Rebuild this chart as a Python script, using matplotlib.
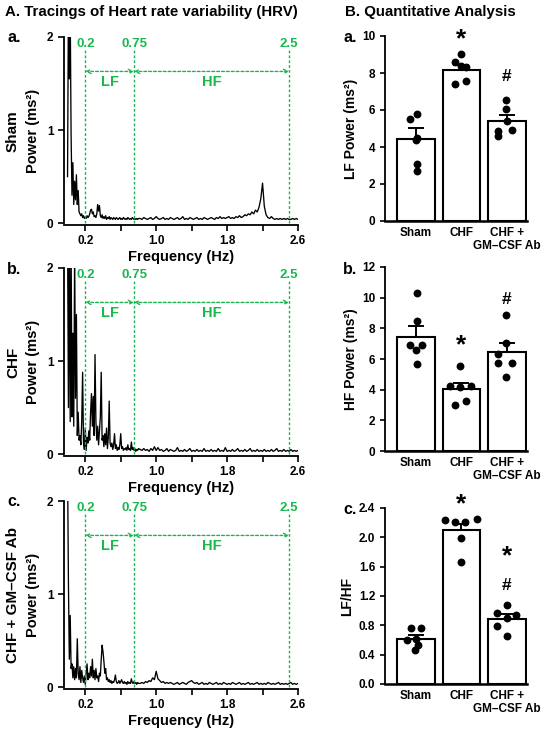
import matplotlib.pyplot as plt
import numpy as np

plt.rcParams['font.family'] = ['Liberation Sans', 'DejaVu Sans']
plt.rcParams['font.weight'] = 'bold'
plt.rcParams['axes.labelweight'] = 'bold'

# ---- HRV power spectra, read off the tracings (power in ms^2) ----
# low band sampled every 0.01 Hz from 0.00 to 0.80
freq_low = np.arange(81) * 0.01
# high band sampled every 0.02 Hz from 0.82 to 2.60
freq_high = 0.82 + np.arange(90) * 0.02

sham_low = [0.5, 2.4, 1.55, 2.3, 0.95, 0.3, 0.65, 0.2, 0.45, 0.25,
            0.52, 0.2, 0.35, 0.12, 0.1, 0.08, 0.1, 0.06, 0.08, 0.05,
            0.07, 0.05, 0.08, 0.06, 0.07, 0.1, 0.14, 0.15, 0.1, 0.12,
            0.07, 0.08, 0.06, 0.1, 0.2, 0.13, 0.19, 0.08, 0.06, 0.09,
            0.05, 0.07, 0.05, 0.08, 0.04, 0.06, 0.05, 0.07, 0.04, 0.06,
            0.05, 0.04, 0.06, 0.05, 0.04, 0.06, 0.05, 0.04, 0.05, 0.06,
            0.04, 0.05, 0.04, 0.06, 0.05, 0.04, 0.05, 0.04, 0.06, 0.05,
            0.04, 0.05, 0.04, 0.06, 0.05, 0.04, 0.05, 0.04, 0.05, 0.04,
            0.05]
sham_high = [0.05, 0.04, 0.06, 0.05, 0.04, 0.05, 0.06, 0.04, 0.05, 0.07,
             0.05, 0.04, 0.05, 0.06, 0.04, 0.05, 0.04, 0.06, 0.05, 0.04,
             0.05, 0.06, 0.04, 0.05, 0.07, 0.04, 0.05, 0.04, 0.06, 0.05,
             0.04, 0.05, 0.06, 0.04, 0.05, 0.04, 0.06, 0.05, 0.04, 0.05,
             0.06, 0.05, 0.04, 0.06, 0.05, 0.07, 0.05, 0.06, 0.05, 0.06,
             0.07, 0.05, 0.06, 0.05, 0.07, 0.06, 0.08, 0.06, 0.07, 0.09,
             0.08, 0.1, 0.09, 0.12, 0.1, 0.14, 0.12, 0.17, 0.26, 0.43,
             0.18, 0.09, 0.06, 0.05, 0.07, 0.05, 0.04, 0.05, 0.04, 0.05,
             0.04, 0.05, 0.04, 0.05, 0.04, 0.04, 0.05, 0.04, 0.05, 0.04]

chf_low = [2.4, 0.5, 2.4, 0.35, 2.3, 0.4, 1.3, 0.3, 2.2, 0.6,
           1.5, 0.2, 0.45, 0.15, 0.2, 0.1, 0.35, 0.88, 0.12, 0.05,
           0.28, 0.04, 0.18, 0.12, 0.25, 0.15, 0.45, 0.65, 0.3, 0.62,
           0.2, 1.07, 0.35, 0.15, 0.3, 0.1, 0.25, 0.4, 0.88, 0.15,
           0.2, 0.08, 0.22, 0.1, 0.28, 0.06, 0.18, 0.57, 0.12, 0.08,
           0.12, 0.05, 0.1, 0.22, 0.06, 0.1, 0.04, 0.07, 0.05, 0.1,
           0.22, 0.06, 0.08, 0.04, 0.06, 0.05, 0.07, 0.04, 0.1, 0.05,
           0.06, 0.04, 0.13, 0.05, 0.07, 0.04, 0.06, 0.03, 0.05, 0.04,
           0.06]
chf_high = [0.05, 0.04, 0.06, 0.04, 0.05, 0.03, 0.06, 0.04, 0.08, 0.04,
            0.07, 0.04, 0.05, 0.03, 0.04, 0.06, 0.03, 0.05, 0.04, 0.03,
            0.04, 0.07, 0.03, 0.04, 0.03, 0.05, 0.03, 0.04, 0.06, 0.03,
            0.04, 0.03, 0.05, 0.03, 0.04, 0.03, 0.06, 0.03, 0.04, 0.03,
            0.05, 0.03, 0.04, 0.03, 0.06, 0.03, 0.04, 0.03, 0.07, 0.03,
            0.04, 0.03, 0.05, 0.03, 0.04, 0.06, 0.03, 0.04, 0.03, 0.05,
            0.03, 0.04, 0.06, 0.03, 0.04, 0.03, 0.05, 0.03, 0.04, 0.03,
            0.05, 0.03, 0.04, 0.03, 0.05, 0.03, 0.04, 0.06, 0.03, 0.04,
            0.03, 0.05, 0.03, 0.04, 0.03, 0.05, 0.03, 0.04, 0.03, 0.04]

gm_low = [2.4, 1.12, 0.3, 0.77, 0.2, 0.25, 0.1, 0.22, 0.08, 0.2,
          0.1, 0.52, 0.15, 0.08, 0.22, 0.05, 0.18, 0.1, 0.05, 0.12,
          0.03, 0.15, 0.25, 0.08, 0.15, 0.1, 0.22, 0.12, 0.3, 0.1,
          0.18, 0.08, 0.2, 0.1, 0.12, 0.06, 0.15, 0.12, 0.3, 0.45,
          0.38, 0.28, 0.15, 0.2, 0.08, 0.1, 0.06, 0.08, 0.05, 0.07,
          0.04, 0.06, 0.05, 0.08, 0.13, 0.06, 0.04, 0.05, 0.07, 0.04,
          0.06, 0.08, 0.05, 0.04, 0.06, 0.04, 0.05, 0.03, 0.06, 0.04,
          0.05, 0.04, 0.09, 0.05, 0.04, 0.06, 0.04, 0.05, 0.03, 0.05,
          0.04]
gm_high = [0.04, 0.05, 0.04, 0.06, 0.05, 0.07, 0.06, 0.1, 0.08, 0.17,
           0.09, 0.07, 0.05, 0.06, 0.04, 0.05, 0.04, 0.05, 0.04, 0.03,
           0.04, 0.05, 0.03, 0.04, 0.05, 0.04, 0.03, 0.05, 0.06, 0.07,
           0.05, 0.04, 0.05, 0.03, 0.04, 0.05, 0.03, 0.04, 0.03, 0.05,
           0.04, 0.03, 0.04, 0.05, 0.03, 0.04, 0.03, 0.05, 0.04, 0.03,
           0.04, 0.03, 0.05, 0.04, 0.03, 0.04, 0.05, 0.03, 0.04, 0.03,
           0.04, 0.05, 0.03, 0.04, 0.03, 0.04, 0.05, 0.03, 0.04, 0.03,
           0.04, 0.03, 0.05, 0.04, 0.03, 0.04, 0.03, 0.04, 0.05, 0.03,
           0.04, 0.03, 0.04, 0.03, 0.04, 0.05, 0.03, 0.04, 0.03, 0.04]

band_edges = [0.2, 0.75, 2.5]
row_names = ['Sham', 'CHF', 'CHF + GM\u2013CSF Ab']

# ---- quantitative analysis ----
groups = ['Sham', 'CHF', 'CHF +\nGM\u2013CSF Ab']

lf_mean = [4.45, 8.15, 5.38]
lf_sem = [0.55, 0.28, 0.37]
lf_sham = [5.8, 5.5, 4.5, 4.4, 3.1, 2.7]
lf_chf = [9.0, 8.57, 8.34, 8.4, 7.56, 7.38]
lf_gm = [6.55, 6.05, 5.4, 4.9, 4.85, 4.6]

hf_mean = [7.45, 4.05, 6.45]
hf_sem = [0.72, 0.38, 0.57]
hf_sham = [10.3, 8.45, 6.9, 6.9, 6.6, 5.65]
hf_chf = [5.53, 4.25, 4.25, 4.2, 3.0, 3.25]
hf_gm = [8.85, 7.05, 6.35, 5.75, 5.75, 4.85]

ratio_mean = [0.62, 2.1, 0.88]
ratio_sem = [0.05, 0.08, 0.07]
ratio_sham = [0.76, 0.76, 0.62, 0.6, 0.53, 0.47]
ratio_chf = [2.23, 2.21, 2.21, 2.25, 1.99, 1.67]
ratio_gm = [1.08, 0.965, 0.94, 0.9, 0.79, 0.65]

GREEN = '#19b84e'
W, H = 550, 732


def fx(x):
    return x / W


def fy(y):
    return 1 - y / H


fig = plt.figure(figsize=(5.5, 7.32), dpi=100)

# left column: spectra
traces = [(sham_low, sham_high), (chf_low, chf_high), (gm_low, gm_high)]
left_tops = [37, 268, 501]
panel_tags = ['a.', 'b.', 'c.']
for i, (lo, hi) in enumerate(traces):
    top = left_tops[i]
    ax = fig.add_axes([fx(64), fy(top + 188), fx(234), 188 / H])
    f = np.concatenate([freq_low, freq_high])
    p = np.concatenate([lo, hi])
    ax.plot(f, p, color='black', lw=0.95)
    ax.set_xlim(-0.04, 2.6)
    ax.set_ylim(-0.02, 2.0)
    for s in ['top', 'right']:
        ax.spines[s].set_visible(False)
    ax.spines['left'].set_linewidth(1.3)
    ax.spines['bottom'].set_linewidth(1.3)
    ax.spines['left'].set_bounds(0, 2)
    ax.set_xticks([0.2, 1.0, 1.8, 2.6])
    ax.set_xticklabels(['0.2', '1.0', '1.8', '2.6'])
    ax.set_xticks([0.6, 1.4, 2.2], minor=True)
    ax.set_yticks([0, 1, 2])
    ax.tick_params(axis='both', which='both', length=4, width=1.2, labelsize=8.5)
    ax.set_xlabel('Frequency (Hz)', fontsize=10.5, labelpad=2)
    ax.set_ylabel('Power (ms\u00b2)', fontsize=10.5, labelpad=5)

    # band markers
    for b in band_edges:
        ax.plot([b, b], [0, 1.87], ls=(0, (2, 1.5)), color=GREEN, lw=1.0)
        ax.text(b, 1.93, f'{b:g}', color=GREEN, fontsize=9.5, ha='center',
                va='center')
    for a, b in [(0.2, 0.75), (0.75, 2.5)]:
        ax.annotate('', xy=(a, 1.63), xytext=(b, 1.63),
                    arrowprops=dict(arrowstyle='<->,head_length=0.3,head_width=0.15',
                                    color=GREEN, lw=1.0, ls=(0, (2, 1.5)),
                                    shrinkA=0, shrinkB=0))
    ax.text(0.475, 1.52, 'LF', color=GREEN, fontsize=10.5, ha='center', va='center')
    ax.text(1.625, 1.52, 'HF', color=GREEN, fontsize=10.5, ha='center', va='center')

    mid = top + 94
    fig.text(fx(13), fy(mid), row_names[i], rotation=90, fontsize=11,
             ha='center', va='center')
    fig.text(fx(7), fy(top + 1), panel_tags[i], fontsize=11.5, ha='left',
             va='center')

fig.text(fx(5), fy(12), 'A. Tracings of Heart rate variability (HRV)',
         fontsize=10.8, ha='left', va='center')
fig.text(fx(345), fy(12), 'B. Quantitative Analysis', fontsize=10.8,
         ha='left', va='center')

# right column: bars
offsets = {
    'lf': [[0.02, -0.13, 0.02, 0.0, 0.02, 0.02],
           [0.0, -0.15, 0.11, -0.02, 0.11, -0.15],
           [-0.03, -0.03, 0.0, 0.12, -0.2, -0.2]],
    'hf': [[0.02, 0.02, -0.13, 0.13, 0.0, 0.02],
           [-0.04, -0.25, 0.22, -0.04, -0.15, 0.1],
           [-0.03, -0.03, -0.19, 0.1, -0.19, -0.03]],
    'ratio': [[-0.1, 0.12, 0.0, -0.2, 0.05, -0.02],
              [-0.36, -0.14, 0.08, 0.34, 0.0, 0.0],
              [0.0, -0.23, 0.2, 0.0, -0.23, 0.0]],
}
right_panels = [
    ('lf', lf_mean, lf_sem, [lf_sham, lf_chf, lf_gm], 36, 221, 10,
     np.arange(0, 11, 2), 'LF Power (ms\u00b2)', '%d',
     [('*', 1, 9.8), ('#', 2, 7.8)]),
    ('hf', hf_mean, hf_sem, [hf_sham, hf_chf, hf_gm], 267, 451, 12,
     np.arange(0, 13, 2), 'HF Power (ms\u00b2)', '%d',
     [('*', 1, 6.9), ('#', 2, 9.9)]),
    ('ratio', ratio_mean, ratio_sem, [ratio_sham, ratio_chf, ratio_gm], 508, 684, 2.4,
     np.arange(0, 2.41, 0.4), 'LF/HF', '%.1f',
     [('*', 1, 2.45), ('*', 2, 1.74), ('#', 2, 1.35)]),
]
x = np.arange(3)
for k, (key, mean, sem, pts, top, bot, ymax, yt, ylab, fmt, marks) in enumerate(right_panels):
    ax = fig.add_axes([fx(385), fy(bot), fx(142), (bot - top) / H])
    ax.bar(x, mean, width=0.83, color='white', edgecolor='black', lw=1.5, zorder=1)
    ax.errorbar(x, mean, yerr=[np.zeros(3), sem], fmt='none', ecolor='black',
                elinewidth=1.4, capsize=5.5, capthick=1.4, zorder=2)
    for g in range(3):
        ax.scatter(g + np.array(offsets[key][g]), pts[g], s=32, color='black',
                   zorder=3, linewidths=0)
    for sym, g, yv in marks:
        ax.text(g, yv, sym, ha='center', va='center',
                fontsize=19 if sym == '*' else 12.5, clip_on=False)
    ax.set_xlim(-0.68, 2.44)
    ax.set_ylim(0, ymax)
    ax.set_yticks(yt)
    ax.yaxis.set_major_formatter(plt.FormatStrFormatter(fmt))
    ax.set_xticks(x)
    ax.set_xticklabels(groups)
    ax.tick_params(axis='x', length=0, labelsize=8.5, pad=4)
    ax.tick_params(axis='y', length=3.5, width=1.2, labelsize=8.5)
    for s in ['top', 'right']:
        ax.spines[s].set_visible(False)
    ax.spines['left'].set_linewidth(1.3)
    ax.spines['bottom'].set_linewidth(1.8)
    ax.set_ylabel(ylab, fontsize=10, labelpad=3)
    fig.text(fx(343), fy(top + 2), panel_tags[k], fontsize=11.5, ha='left',
             va='center')

fig.savefig('out.png', dpi=100)
